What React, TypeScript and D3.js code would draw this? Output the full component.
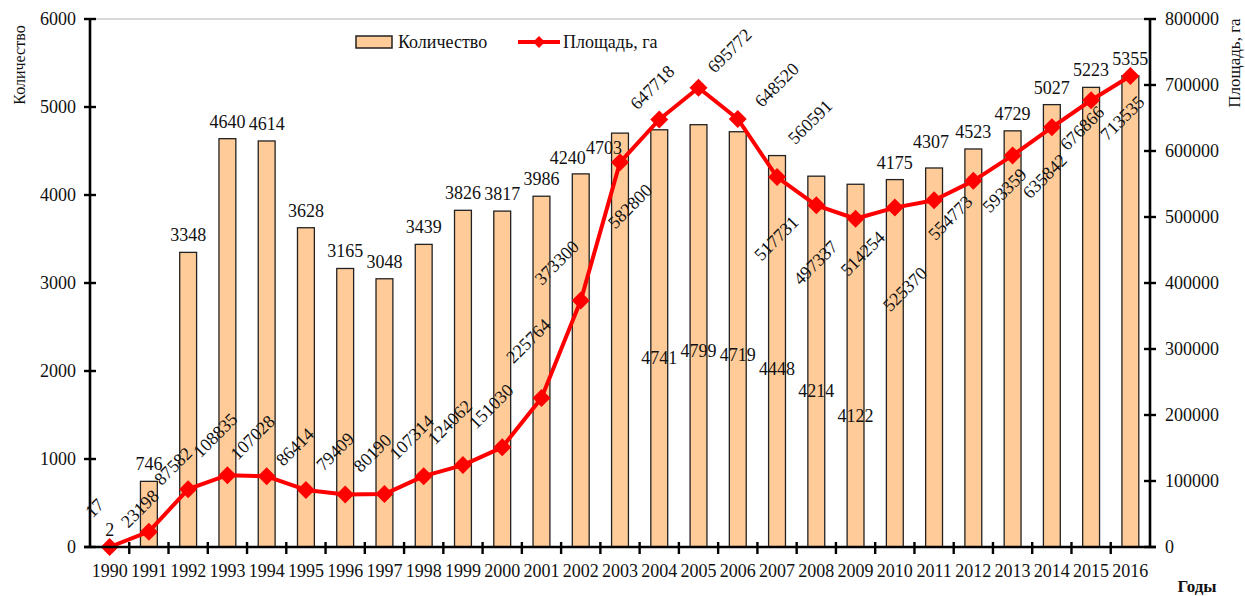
import React from "react";
import * as d3 from "d3";

const years = ["1990","1991","1992","1993","1994","1995","1996","1997","1998","1999","2000","2001","2002","2003","2004","2005","2006","2007","2008","2009","2010","2011","2012","2013","2014","2015","2016"];
const counts = [2,746,3348,4640,4614,3628,3165,3048,3439,3826,3817,3986,4240,4703,4741,4799,4719,4448,4214,4122,4175,4307,4523,4729,5027,5223,5355];
const areas = [17,23198,87582,108835,107028,86414,79409,80190,107314,124062,151030,225764,373300,582800,647718,695772,648520,560591,517731,497337,514254,525370,554773,593359,635842,676866,713535];
const leftTicks = [0,1000,2000,3000,4000,5000,6000];
const rightTicks = [0,100000,200000,300000,400000,500000,600000,700000,800000];

// label nudges (pixel offsets of label centre), kept apart from the data
const areaLabelNudge: [number, number][] = [
  [-15,-39],[-9,-23],[-15,-23],[-12,-40],[-14,-39],[-11,-43],[-10,-43],[-12,-41],[-12,-39],[-13,-43],[-11,-41],[-13,-57],[-24,-38],
  [10,44],[-7,-32],[31,-37],[39,-34],[33,-55],[-40,33],[-40,44],[-32,46],[-29,89],[-23,37],[-8,35],[-7,49],[-9,28],[-8,42]
];
const countLabelNudge: Record<string, [number, number]> = {
  "2002": [-13,-16], "2003": [-16,15], "2004": [0,228], "2005": [0,226], "2006": [0,223],
  "2007": [0,213], "2008": [0,215], "2009": [0,232], "2011": [-3,-26]
};

const W = 1245, H = 596;
const L = 90, R = 1150, T = 19, B = 547;
const FONT = "'Liberation Serif', 'Times New Roman', serif";
const BAR_FILL = "#FFCC99";
const RED = "#FF0000";

export default function App() {
  const x = d3.scaleBand<string>().domain(years).range([L, R]).paddingInner(0.57).paddingOuter(0.285);
  const band = d3.scaleBand<string>().domain(years).range([L, R]);
  const yL = d3.scaleLinear().domain([0, 6000]).range([B, T]);
  const yR = d3.scaleLinear().domain([0, 800000]).range([B, T]);
  const cx = (y: string) => (band(y) as number) + band.bandwidth() / 2;
  const line = d3.line<number>().x((_, i) => cx(years[i])).y(v => yR(v));
  const diamond = (px: number, py: number, s = 9) => `M${px},${py - s}L${px + s},${py}L${px},${py + s}L${px - s},${py}Z`;

  return (
    <svg width={W} height={H} style={{ position: "absolute", left: 0, top: 0, background: "#fff" }} fontFamily={FONT}>
      <rect x={0} y={0} width={W} height={H} fill="#fff" />
      {/* top border */}
      <line x1={L} x2={R} y1={T} y2={T} stroke="#b0b0b0" strokeWidth={1} />
      {/* bars */}
      {years.map((yr, i) => (
        <rect key={yr} x={x(yr)} y={yL(counts[i])} width={x.bandwidth()} height={B - yL(counts[i])}
          fill={BAR_FILL} stroke="#222" strokeWidth={1.3} />
      ))}
      {/* line */}
      <path d={line(areas) as string} fill="none" stroke={RED} strokeWidth={4} strokeLinejoin="round" />
      {areas.map((v, i) => (
        <path key={i} d={diamond(cx(years[i]), yR(v))} fill={RED} />
      ))}
      {/* axes */}
      <line x1={L} x2={L} y1={T} y2={B} stroke="#000" strokeWidth={2.6} />
      <line x1={R} x2={R} y1={T} y2={B} stroke="#000" strokeWidth={2.6} />
      <line x1={L - 6} x2={R + 6} y1={B} y2={B} stroke="#000" strokeWidth={2.6} />
      {leftTicks.map(t => (
        <g key={"l" + t}>
          <line x1={L - 6} x2={L + 6} y1={yL(t)} y2={yL(t)} stroke="#000" strokeWidth={2.4} />
          <text x={L - 14} y={yL(t)} textAnchor="end" dominantBaseline="central" fontSize={18} fill="#111">{t}</text>
        </g>
      ))}
      {rightTicks.map(t => (
        <g key={"r" + t}>
          <line x1={R - 6} x2={R + 6} y1={yR(t)} y2={yR(t)} stroke="#000" strokeWidth={2.4} />
          <text x={R + 15} y={yR(t)} textAnchor="start" dominantBaseline="central" fontSize={18} fill="#111">{t}</text>
        </g>
      ))}
      {years.map((yr, i) => (
        <g key={"x" + yr}>
          {i > 0 && <line x1={band(yr)} x2={band(yr)} y1={B - 5} y2={B + 7} stroke="#000" strokeWidth={2.4} />}
          <text x={cx(yr)} y={577} textAnchor="middle" fontSize={18} fill="#111">{yr}</text>
        </g>
      ))}
      {/* count labels */}
      {years.map((yr, i) => {
        const n = countLabelNudge[yr] || [0, -17];
        return (
          <text key={"c" + yr} x={cx(yr) + n[0]} y={yL(counts[i]) + n[1]} textAnchor="middle"
            dominantBaseline="central" fontSize={18} fill="#111">{counts[i]}</text>
        );
      })}
      {/* area labels */}
      {years.map((yr, i) => {
        const n = areaLabelNudge[i];
        const px = cx(yr) + n[0], py = yR(areas[i]) + n[1];
        return (
          <text key={"a" + yr} x={px} y={py} transform={`rotate(-45 ${px} ${py})`} textAnchor="middle"
            dominantBaseline="central" fontSize={18} fill="#111">{areas[i]}</text>
        );
      })}
      {/* axis titles */}
      <text x={19} y={65} transform="rotate(-90 19 65)" textAnchor="middle" dominantBaseline="central" fontSize={16} fill="#111">Количество</text>
      <text x={1234} y={63} transform="rotate(-90 1234 63)" textAnchor="middle" dominantBaseline="central" fontSize={17} fill="#111">Площадь, га</text>
      <text x={1197} y={586} textAnchor="middle" dominantBaseline="central" fontSize={17} fontWeight="bold" fill="#111">Годы</text>
      {/* legend */}
      <rect x={356} y={36} width={36} height={12} fill={BAR_FILL} stroke="#222" strokeWidth={1.5} />
      <text x={398} y={42} dominantBaseline="central" fontSize={18} fill="#111">Количество</text>
      <line x1={518} x2={560} y1={42} y2={42} stroke={RED} strokeWidth={4} />
      <path d={diamond(539, 42, 6)} fill={RED} />
      <text x={563} y={42} dominantBaseline="central" fontSize={18} fill="#111">Площадь, га</text>
    </svg>
  );
}
